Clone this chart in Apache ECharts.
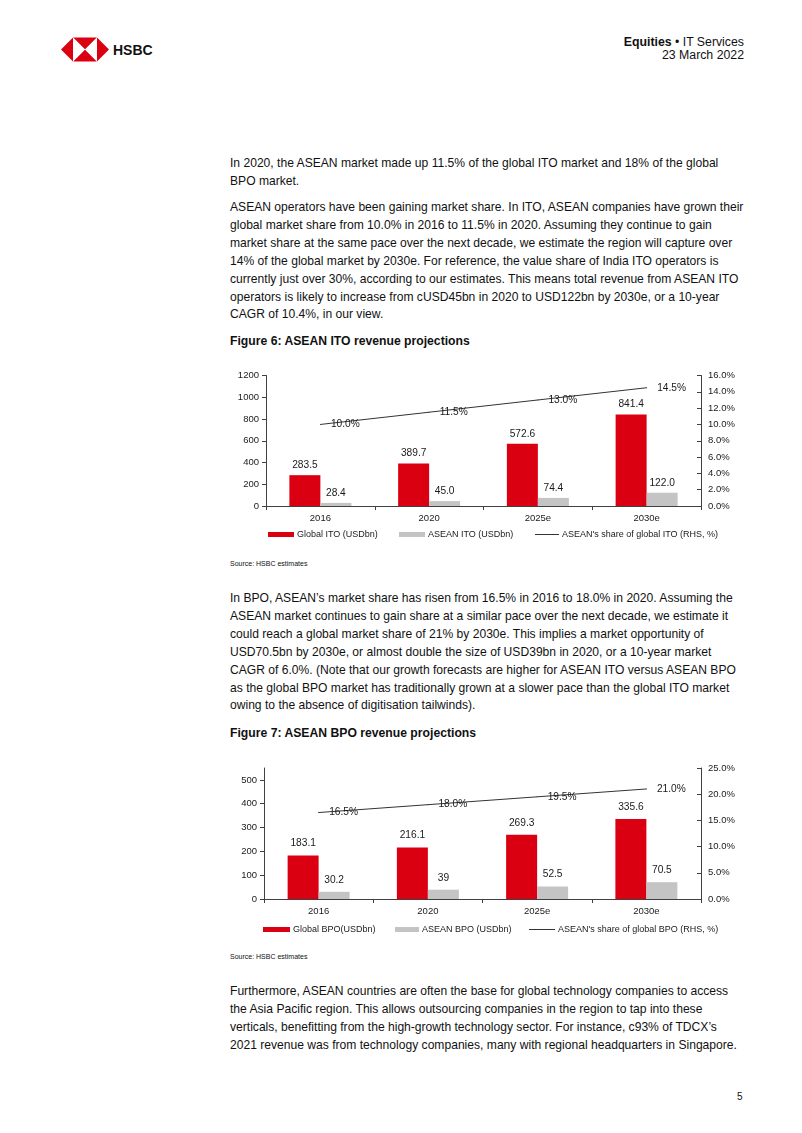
<!DOCTYPE html>
<html>
<head>
<meta charset="utf-8">
<script src="https://cdn.jsdelivr.net/npm/echarts@6/dist/echarts.min.js"></script>
<style>
  html, body { margin: 0; padding: 0; background: #fff; }
  #page { position: relative; width: 802px; height: 1133px; overflow: hidden; font-family: "Liberation Sans", Arial, sans-serif; color: #111; }
  .t { position: absolute; white-space: nowrap; }
  .body { left: 230px; font-size: 12.1px; line-height: 17.9px; }
  .fig { left: 230px; font-size: 12.2px; font-weight: bold; line-height: 16px; }
  .src { left: 230px; font-size: 7px; line-height: 10px; }
  #chart { position: absolute; left: 0; top: 0; width: 802px; height: 1133px; }
</style>
</head>
<body>
<div id="page">
  <svg class="t" style="left:61px;top:37px" width="48" height="25" viewBox="0 0 48 24">
    <polygon points="0,12 12,0 12,24" fill="#DB0011"/>
    <polygon points="48,12 36,0 36,24" fill="#DB0011"/>
    <polygon points="12,0 36,0 24,12" fill="#DB0011"/>
    <polygon points="12,24 36,24 24,12" fill="#DB0011"/>
    <polygon points="12,0 24,12 12,24" fill="#fff"/>
    <polygon points="36,0 24,12 36,24" fill="#fff"/>
  </svg>
  <div class="t" style="left:113px;top:41px;font-size:14px;font-weight:bold;line-height:18px;">HSBC</div>
  <div class="t" style="right:58px;top:36px;font-size:12.3px;line-height:13px;text-align:right;"><b>Equities</b> &#8226; IT Services<br>23 March 2022</div>

  <div class="t body" style="top:155px;">In 2020, the ASEAN market made up 11.5% of the global ITO market and 18% of the global<br>BPO market.</div>
  <div class="t body" style="top:199px;">ASEAN operators have been gaining market share. In ITO, ASEAN companies have grown their<br>global market share from 10.0% in 2016 to 11.5% in 2020. Assuming they continue to gain<br>market share at the same pace over the next decade, we estimate the region will capture over<br>14% of the global market by 2030e. For reference, the value share of India ITO operators is<br>currently just over 30%, according to our estimates. This means total revenue from ASEAN ITO<br>operators is likely to increase from cUSD45bn in 2020 to USD122bn by 2030e, or a 10-year<br>CAGR of 10.4%, in our view.</div>

  <div class="t fig" style="top:333px;">Figure 6: ASEAN ITO revenue projections</div>
  <div class="t src" style="top:559px;">Source: HSBC estimates</div>

  <div class="t body" style="top:590px;">In BPO, ASEAN’s market share has risen from 16.5% in 2016 to 18.0% in 2020. Assuming the<br>ASEAN market continues to gain share at a similar pace over the next decade, we estimate it<br>could reach a global market share of 21% by 2030e. This implies a market opportunity of<br>USD70.5bn by 2030e, or almost double the size of USD39bn in 2020, or a 10-year market<br>CAGR of 6.0%. (Note that our growth forecasts are higher for ASEAN ITO versus ASEAN BPO<br>as the global BPO market has traditionally grown at a slower pace than the global ITO market<br>owing to the absence of digitisation tailwinds).</div>

  <div class="t fig" style="top:725px;">Figure 7: ASEAN BPO revenue projections</div>
  <div class="t src" style="top:952px;">Source: HSBC estimates</div>

  <div class="t body" style="top:983px;">Furthermore, ASEAN countries are often the base for global technology companies to access<br>the Asia Pacific region. This allows outsourcing companies in the region to tap into these<br>verticals, benefitting from the high-growth technology sector. For instance, c93% of TDCX’s<br>2021 revenue was from technology companies, many with regional headquarters in Singapore.</div>

  <div class="t" style="left:737px;top:1091px;font-size:10px;line-height:12px;">5</div>
  <div id="chart"></div>
</div>
<script>
const categories = ['2016', '2020', '2025e', '2030e'];
const globalITO = [283.5, 389.7, 572.6, 841.4];
const aseanITO = [28.4, 45.0, 74.4, 122.0];
const itoShare = [10.0, 11.5, 13.0, 14.5];
const globalBPO = [183.1, 216.1, 269.3, 335.6];
const aseanBPO = [30.2, 39, 52.5, 70.5];
const bpoShare = [16.5, 18.0, 19.5, 21.0];

const FONT = '"Liberation Sans", Arial, sans-serif';
const RED = '#DB0011';
const GREY = '#C4C4C4';
const LINE = '#333333';
const AXIS = '#404040';
const TXT = '#1a1a1a';

function xAxis(gi) {
  return {
    type: 'category', gridIndex: gi, data: categories,
    axisLine: { lineStyle: { color: AXIS, width: 1 } },
    axisTick: { show: true, inside: false, length: 4, lineStyle: { color: AXIS } },
    axisLabel: { color: TXT, fontFamily: FONT, fontSize: 9.5, margin: 7 },
    splitLine: { show: false }
  };
}
function yLeft(gi, max, interval, showMax) {
  return {
    type: 'value', gridIndex: gi, position: 'left', min: 0, max: max, interval: interval,
    axisLine: { show: true, lineStyle: { color: AXIS } },
    axisTick: { show: true, inside: false, length: 4, lineStyle: { color: AXIS } },
    axisLabel: { color: TXT, fontFamily: FONT, fontSize: 9.5, margin: 7, showMaxLabel: showMax,
      formatter: v => (v % interval === 0 ? String(v) : '') },
    splitLine: { show: false }
  };
}
function yRight(gi, max, interval) {
  return {
    type: 'value', gridIndex: gi, position: 'right', min: 0, max: max, interval: interval,
    axisLine: { show: true, lineStyle: { color: AXIS } },
    axisTick: { show: true, inside: true, length: 4, lineStyle: { color: AXIS } },
    axisLabel: { color: TXT, fontFamily: FONT, fontSize: 9.5, margin: 7, formatter: v => v.toFixed(1) + '%' },
    splitLine: { show: false }
  };
}
function barSeries(name, data, color, xi, yi, fmt, dist) {
  return {
    name: name, type: 'bar', xAxisIndex: xi, yAxisIndex: yi, data: data,
    barWidth: 31, barGap: '0%',
    itemStyle: { color: color },
    label: { show: true, position: 'top', distance: dist, color: TXT, fontFamily: FONT, fontSize: 10.2, formatter: fmt }
  };
}
function lineSeries(name, data, xi, yi) {
  return {
    name: name, type: 'line', xAxisIndex: xi, yAxisIndex: yi, data: data,
    symbol: 'circle', symbolSize: 1, showSymbol: true,
    itemStyle: { color: LINE }, lineStyle: { color: LINE, width: 1 },
    label: { show: true, position: 'right', distance: 10, color: TXT, fontFamily: FONT, fontSize: 10.2,
      formatter: p => p.value.toFixed(1) + '%' }
  };
}
function legend(name, left, top, w, h) {
  return {
    data: [name], left: left, top: top, padding: 0, itemWidth: w, itemHeight: h, icon: 'rect',
    selectedMode: false, itemGap: 0,
    textStyle: { color: TXT, fontFamily: FONT, fontSize: 9, padding: [0, 0, 0, -2] }
  };
}

const fmt1 = p => p.value.toFixed(1);
const fmtRaw = p => String(p.value);

const N = {
  g1: 'Global ITO (USDbn)', a1: 'ASEAN ITO (USDbn)', s1: "ASEAN's share of global ITO (RHS, %)",
  g2: 'Global BPO(USDbn)', a2: 'ASEAN BPO (USDbn)', s2: "ASEAN's share of global BPO (RHS, %)"
};

const option = {
  animation: false,
  backgroundColor: 'transparent',
  grid: [
    { left: 266, right: 101, top: 375.5, bottom: 1133 - 506 },
    { left: 264, right: 101, top: 768, bottom: 1133 - 899 }
  ],
  xAxis: [xAxis(0), xAxis(1)],
  yAxis: [yLeft(0, 1200, 200, true), yRight(0, 16, 2), yLeft(1, 550, 100, false), yRight(1, 25, 5)],
  legend: [
    legend(N.g1, 268, 530, 26, 5), legend(N.a1, 399, 530, 26, 5), legend(N.s1, 535, 530, 24, 1),
    legend(N.g2, 263, 925, 27, 5), legend(N.a2, 395, 925, 24, 5), legend(N.s2, 529, 925, 26, 1)
  ],
  series: [
    barSeries(N.g1, globalITO, RED, 0, 0, fmt1, 5),
    barSeries(N.a1, aseanITO, GREY, 0, 0, fmt1, 5),
    lineSeries(N.s1, itoShare, 0, 1),
    barSeries(N.g2, globalBPO, RED, 1, 2, fmtRaw, 7),
    barSeries(N.a2, aseanBPO, GREY, 1, 2, fmtRaw, 7),
    lineSeries(N.s2, bpoShare, 1, 3)
  ]
};
const chart = echarts.init(document.getElementById('chart'), null, { renderer: 'canvas' });
chart.setOption(option);
</script>
</body>
</html>
